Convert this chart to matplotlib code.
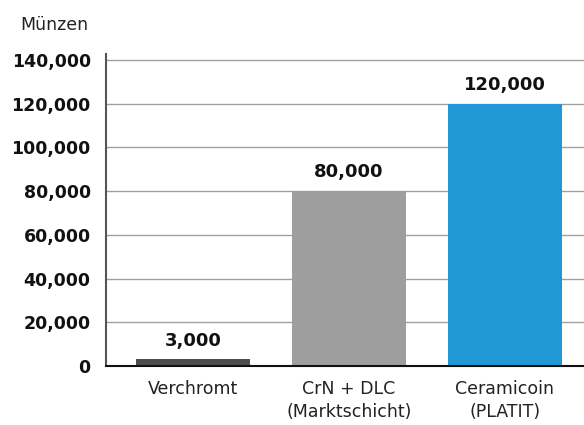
import matplotlib
matplotlib.use("Agg")
import matplotlib.pyplot as plt
from matplotlib.ticker import FuncFormatter

# data
categories = ["Verchromt", "CrN + DLC\n(Marktschicht)", "Ceramicoin\n(PLATIT)"]
coins = [3000, 80000, 120000]
bar_colors = ["#4d4d4d", "#9e9e9e", "#2198d6"]
y_ticks = [0, 20000, 40000, 60000, 80000, 100000, 120000, 140000]

plt.rcParams['font.family'] = ['DejaVu Sans']

fig = plt.figure(figsize=(5.84, 4.25), dpi=100)
ax = fig.add_axes([0.1815, 0.139, 0.8185, 0.734])

x = range(len(categories))
ax.bar(x, coins, width=0.733, color=bar_colors, zorder=3)

# value labels above the bars
for i, v in enumerate(coins):
    ax.text(i, v + 4500, f"{v:,}", ha="center", va="bottom",
            fontsize=13, fontweight="bold", color="#111111")

ax.set_xlim(-0.56, 2.51)
ax.set_ylim(0, 142750)
ax.set_yticks(y_ticks)
ax.yaxis.set_major_formatter(FuncFormatter(lambda v, p: f"{int(v):,}"))
ax.grid(axis="y", color="#a0a0a0", linewidth=1.0, zorder=0)

ax.set_xticks(list(x))
ax.set_xticklabels(categories, fontsize=12.5, color="#222222", linespacing=1.35)
for lab in ax.get_yticklabels():
    lab.set_fontsize(12.5)
    lab.set_fontweight("bold")
    lab.set_color("#111111")

ax.tick_params(axis="both", length=0)
ax.tick_params(axis="y", pad=11)
ax.tick_params(axis="x", pad=10)

for s in ["top", "right"]:
    ax.spines[s].set_visible(False)
ax.spines["left"].set_color("#555555")
ax.spines["left"].set_linewidth(1.5)
ax.spines["bottom"].set_color("#111111")
ax.spines["bottom"].set_linewidth(1.5)
ax.spines["bottom"].set_zorder(4)

fig.text(0.034, 0.94, "Münzen", fontsize=12.5, color="#222222", va="center")

fig.savefig("out.png", dpi=100)
